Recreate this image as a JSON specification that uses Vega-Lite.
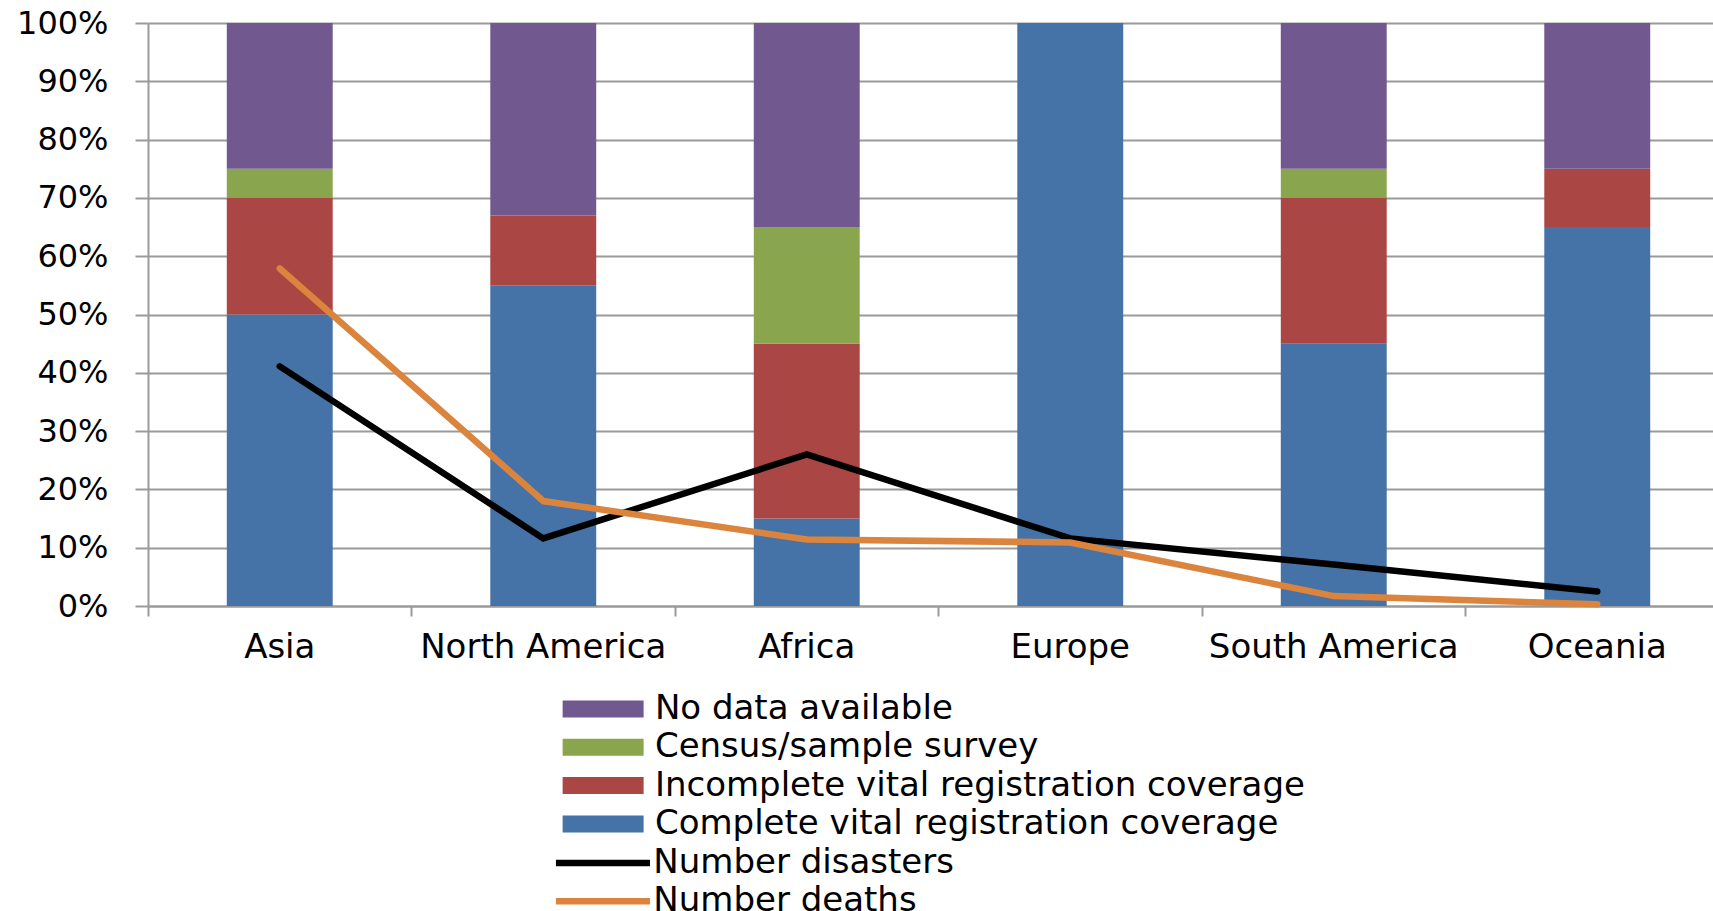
{
  "$schema": "https://vega.github.io/schema/vega-lite/v6.json",
  "width": 1565,
  "height": 583,
  "autosize": {"type": "none"},
  "padding": {"left": 148, "top": 23, "right": 0, "bottom": 305},
  "background": "white",
  "config": {
    "view": {"stroke": null},
    "font": "DejaVu Sans",
    "axisY": {
      "grid": true, "gridColor": "#9a9a9a", "gridWidth": 2, "gridOpacity": 1,
      "domainColor": "#9a9a9a", "domainWidth": 2,
      "tickColor": "#9a9a9a", "tickWidth": 2, "tickSize": 13,
      "labelFontSize": 32, "labelColor": "#000000", "labelPadding": 27
    },
    "axisX": {
      "grid": false,
      "domainColor": "#9a9a9a", "domainWidth": 2,
      "tickColor": "#9a9a9a", "tickWidth": 2, "tickSize": 10,
      "labelAngle": 0, "labelFontSize": 34, "labelColor": "#000000", "labelLimit": 0,
      "labelBaseline": "alphabetic", "labelPadding": 41
    }
  },
  "datasets": {
    "bars": [
      {"region": "Asia", "category": "Complete vital registration coverage", "rank": 1, "value": 50},
      {"region": "Asia", "category": "Incomplete vital registration coverage", "rank": 2, "value": 20},
      {"region": "Asia", "category": "Census/sample survey", "rank": 3, "value": 5},
      {"region": "Asia", "category": "No data available", "rank": 4, "value": 25},
      {"region": "North America", "category": "Complete vital registration coverage", "rank": 1, "value": 55},
      {"region": "North America", "category": "Incomplete vital registration coverage", "rank": 2, "value": 12},
      {"region": "North America", "category": "No data available", "rank": 4, "value": 33},
      {"region": "Africa", "category": "Complete vital registration coverage", "rank": 1, "value": 15},
      {"region": "Africa", "category": "Incomplete vital registration coverage", "rank": 2, "value": 30},
      {"region": "Africa", "category": "Census/sample survey", "rank": 3, "value": 20},
      {"region": "Africa", "category": "No data available", "rank": 4, "value": 35},
      {"region": "Europe", "category": "Complete vital registration coverage", "rank": 1, "value": 100},
      {"region": "South America", "category": "Complete vital registration coverage", "rank": 1, "value": 45},
      {"region": "South America", "category": "Incomplete vital registration coverage", "rank": 2, "value": 25},
      {"region": "South America", "category": "Census/sample survey", "rank": 3, "value": 5},
      {"region": "South America", "category": "No data available", "rank": 4, "value": 25},
      {"region": "Oceania", "category": "Complete vital registration coverage", "rank": 1, "value": 65},
      {"region": "Oceania", "category": "Incomplete vital registration coverage", "rank": 2, "value": 10},
      {"region": "Oceania", "category": "No data available", "rank": 4, "value": 25}
    ],
    "lines": [
      {"region": "Asia", "series": "Number disasters", "value": 41.1},
      {"region": "North America", "series": "Number disasters", "value": 11.6},
      {"region": "Africa", "series": "Number disasters", "value": 26.0},
      {"region": "Europe", "series": "Number disasters", "value": 11.6},
      {"region": "South America", "series": "Number disasters", "value": 7.1},
      {"region": "Oceania", "series": "Number disasters", "value": 2.5},
      {"region": "Asia", "series": "Number deaths", "value": 57.9},
      {"region": "North America", "series": "Number deaths", "value": 18.0},
      {"region": "Africa", "series": "Number deaths", "value": 11.4},
      {"region": "Europe", "series": "Number deaths", "value": 10.9},
      {"region": "South America", "series": "Number deaths", "value": 1.7},
      {"region": "Oceania", "series": "Number deaths", "value": 0.3}
    ]
  },
  "layer": [
    {
      "data": {"name": "bars"},
      "mark": {"type": "bar"},
      "encoding": {
        "x": {
          "field": "region", "type": "nominal",
          "sort": ["Asia", "North America", "Africa", "Europe", "South America", "Oceania"],
          "scale": {"range": [0, 1581], "paddingInner": 0.598, "paddingOuter": 0.299},
          "axis": {"title": null, "bandPosition": -0.7435}
        },
        "y": {
          "field": "value", "type": "quantitative", "stack": "zero",
          "scale": {"domain": [0, 100], "nice": false},
          "axis": {"title": null, "values": [0, 10, 20, 30, 40, 50, 60, 70, 80, 90, 100], "labelExpr": "datum.value + '%'"}
        },
        "color": {
          "field": "category", "type": "nominal",
          "scale": {
            "domain": ["No data available", "Census/sample survey", "Incomplete vital registration coverage", "Complete vital registration coverage"],
            "range": ["#71588F", "#89A54E", "#AA4643", "#4572A7"]
          },
          "legend": {
            "title": null, "orient": "none", "legendX": 468.5, "legendY": 669, "padding": 0,
            "symbolType": "M-7,-0.84H1V0.84H-7Z", "symbolSize": 410, "symbolStrokeWidth": 0, "symbolOpacity": 1,
            "labelFontSize": 34, "labelColor": "#000000", "labelLimit": 0, "labelOffset": 4.4, "rowPadding": 4.3
          }
        },
        "order": {"field": "rank", "type": "quantitative"}
      }
    },
    {
      "data": {"name": "lines"},
      "mark": {"type": "line", "strokeWidth": 6.5, "strokeCap": "round", "strokeJoin": "miter"},
      "encoding": {
        "x": {
          "field": "region", "type": "nominal",
          "sort": ["Asia", "North America", "Africa", "Europe", "South America", "Oceania"],
          "axis": {"title": null, "bandPosition": -0.7435}
        },
        "y": {
          "field": "value", "type": "quantitative",
          "axis": {"title": null, "values": [0, 10, 20, 30, 40, 50, 60, 70, 80, 90, 100], "labelExpr": "datum.value + '%'"}
        },
        "stroke": {
          "field": "series", "type": "nominal",
          "scale": {"domain": ["Number disasters", "Number deaths"], "range": ["#000000", "#DB843D"]},
          "legend": {
            "title": null, "orient": "none", "legendX": 468.5, "legendY": 823, "padding": 0,
            "symbolType": "M-7.66,0H1.63", "symbolSize": 410, "symbolStrokeWidth": 6.5, "symbolOpacity": 1,
            "labelFontSize": 34, "labelColor": "#000000", "labelLimit": 0, "labelOffset": 2.8, "rowPadding": 4.3
          }
        }
      }
    }
  ]
}
